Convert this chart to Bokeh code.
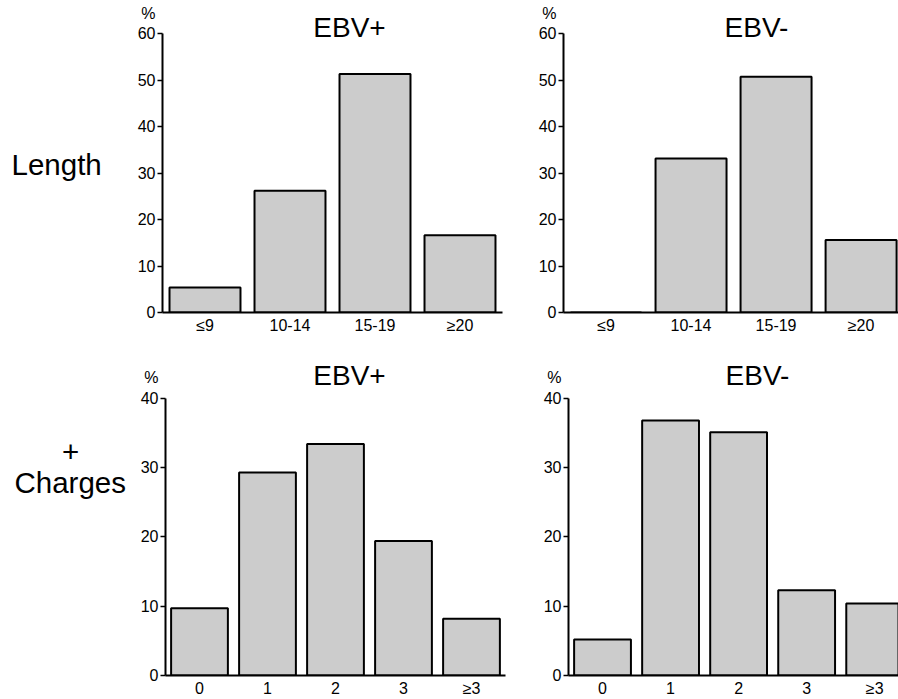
from bokeh.plotting import figure
from bokeh.models import Range1d, FixedTicker, Label
from bokeh.layouts import column, row
from bokeh.embed import file_html
from bokeh.resources import INLINE

# ---- data ----
length_cats = ["≤9", "10-14", "15-19", "≥20"]
length_ebv_pos = [5.4, 26.2, 51.3, 16.6]
length_ebv_neg = [0.0, 33.1, 50.7, 15.6]
charge_cats = ["0", "1", "2", "3", "≥3"]
charge_ebv_pos = [9.7, 29.3, 33.4, 19.4, 8.2]
charge_ebv_neg = [5.2, 36.8, 35.1, 12.3, 10.4]
length_yticks = [0, 10, 20, 30, 40, 50, 60]
charge_yticks = [0, 10, 20, 30, 40]
panel_titles = ["EBV+", "EBV-", "EBV+", "EBV-"]
row_labels = ["Length", "+", "Charges"]
unit_label = "%"

FONT = "Liberation Sans"


def make_label(text, x, y, size, align="center"):
    return Label(x=x, y=y, x_units="screen", y_units="screen", text=text,
                 text_align=align, text_baseline="middle", text_font=FONT,
                 text_font_size=size, text_color="black")


def blank_fig(width, height):
    p = figure(width=width, height=height, output_backend="svg",
               toolbar_location=None, tools="",
               x_range=Range1d(0, 1), y_range=Range1d(0, 1),
               x_axis_location=None, y_axis_location=None,
               min_border_left=0, min_border_right=0,
               min_border_top=0, min_border_bottom=0)
    p.outline_line_color = None
    p.xgrid.visible = False
    p.ygrid.visible = False
    return p


def make_panel(cats, vals, yticks, title, width, height, bl, br, bt, bb,
               data_px, xend, title_dx, title_dy):
    n = len(cats)
    xs = list(range(n))
    ymax = yticks[-1]
    frame_h = height - bt - bb
    yend = ymax * frame_h / data_px
    p = figure(width=width, height=height, output_backend="svg",
               toolbar_location=None, tools="",
               x_range=Range1d(-0.5, xend), y_range=Range1d(0, yend),
               min_border_left=bl, min_border_right=br,
               min_border_top=bt, min_border_bottom=bb)
    p.outline_line_color = None
    p.xgrid.visible = False
    p.ygrid.visible = False
    p.background_fill_color = "white"
    p.border_fill_color = "white"

    p.vbar(x=xs, top=vals, bottom=0, width=0.835, fill_color="#cccccc",
           line_color="black", line_width=2)

    p.add_layout(make_label(title, title_dx, data_px + title_dy, "28px"))

    xa = p.xaxis[0]
    xa.ticker = FixedTicker(ticks=xs)
    xa.major_label_overrides = {i: c for i, c in enumerate(cats)}
    xa.major_tick_out = 0
    xa.major_tick_in = 0
    xa.minor_tick_out = 0
    xa.minor_tick_in = 0
    xa.axis_line_width = 2
    xa.axis_line_color = "black"
    xa.major_label_text_font = FONT
    xa.major_label_text_font_size = "16px"
    xa.major_label_text_color = "black"
    xa.major_label_standoff = 4

    ya = p.yaxis[0]
    ya.ticker = FixedTicker(ticks=yticks)
    ya.bounds = (0, ymax)
    ya.major_label_overrides = {ymax: unit_label + "\n" + str(ymax) + "\n "}
    ya.major_tick_out = 5
    ya.major_tick_in = 0
    ya.major_tick_line_width = 1.5
    ya.minor_tick_out = 0
    ya.minor_tick_in = 0
    ya.axis_line_width = 2
    ya.axis_line_color = "black"
    ya.major_label_text_font = FONT
    ya.major_label_text_font_size = "16px"
    ya.major_label_text_color = "black"
    ya.major_label_standoff = 2
    return p


STRIP_W = 132
# strip frames are aligned with the panel frames in the row
s1 = blank_fig(STRIP_W, 345)
s1.add_layout(make_label(row_labels[0], 11, 148.5, "29.5px", align="left"))
s2 = blank_fig(STRIP_W, 354)
s2.add_layout(make_label(row_labels[1], 70, 224, "29.5px"))
s2.add_layout(make_label(row_labels[2], 14, 193, "29.5px", align="left"))

p1 = make_panel(length_cats, length_ebv_pos, length_yticks, panel_titles[0],
                398, 345, 30, 28, 10, 33, 279, 3.5, 187, 6)
p2 = make_panel(length_cats, length_ebv_neg, length_yticks, panel_titles[1],
                368, 345, 33, 0, 10, 33, 279, 3.44, 193, 6)
p3 = make_panel(charge_cats, charge_ebv_pos, charge_yticks, panel_titles[2],
                398, 354, 33, 25, 10, 23, 278, 4.5, 184, 22.5)
p4 = make_panel(charge_cats, charge_ebv_neg, charge_yticks, panel_titles[3],
                368, 354, 38, 0, 10, 23, 278, 4.35, 189, 22.5)

layout = column(row(s1, p1, p2), row(s2, p3, p4))
open("out.html", "w").write(file_html(layout, INLINE))
